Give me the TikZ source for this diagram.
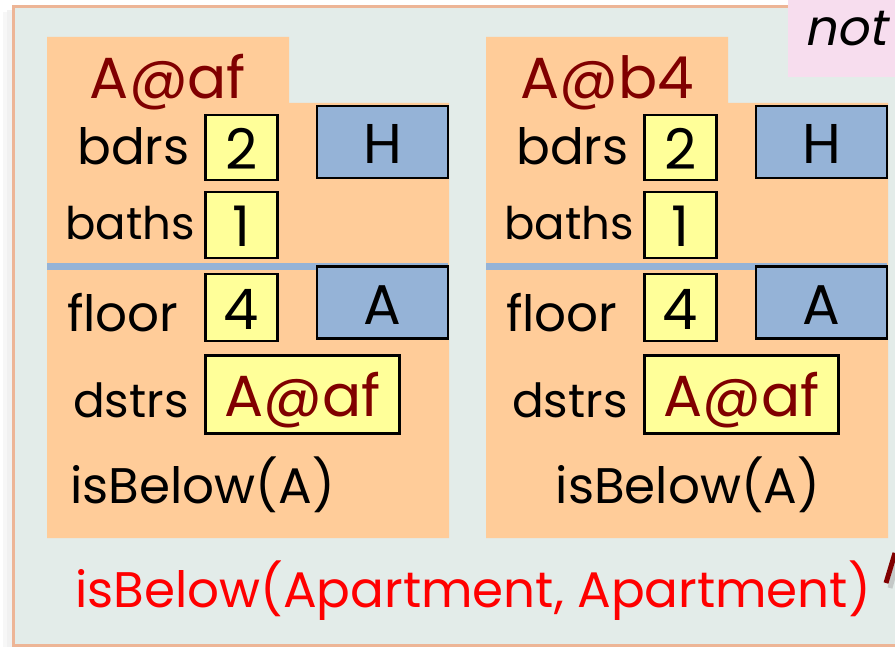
\documentclass[tikz,border=0pt]{standalone}
\usepackage{fontspec}
\setmainfont{Poppins}
\newfontfamily\slantfont[FakeSlant=0.2]{Poppins}
\definecolor{panelbg}{HTML}{E3ECE9}
\definecolor{panelrim}{HTML}{EDB596}
\definecolor{cardbg}{HTML}{FFCC99}
\definecolor{valbg}{HTML}{FFFF99}
\definecolor{tagbg}{HTML}{95B3D7}
\definecolor{notbg}{HTML}{F7DDEE}
\definecolor{darkred}{HTML}{800000}
\newcommand{\bigtxt}{\fontsize{50}{60}\selectfont}
\newcommand{\valtxt}{\fontsize{56}{60}\selectfont}
\newcommand{\idtxt}{\fontsize{58}{60}\selectfont}
\tikzset{
  lbl/.style={anchor=base west, inner sep=0pt, font=\bigtxt},
  title/.style={anchor=base, inner sep=0pt, font=\idtxt, text=darkred},
  valbox/.style={draw, fill=valbg, line width=2.6pt, inner sep=0pt,
    text height=44pt, text depth=0pt, font=\valtxt},
  tagbox/.style={draw, fill=tagbg, line width=2.6pt, inner sep=0pt,
    minimum width=131pt, minimum height=72pt,
    text height=44pt, text depth=0pt, font=\valtxt}
}
\begin{document}
\begin{tikzpicture}[x=1pt, y=-1pt]
  \useasboundingbox (0,0) rectangle (895,647);
  % panel with its soft shadow
  \fill[black!10, opacity=0.5] (7,10) rectangle (900,652);
  \fill[black!6, opacity=0.5] (3,12) rectangle (900,652);
  \filldraw[fill=panelbg, draw=panelrim, line width=3pt] (13.5,6.5) rectangle (905,645);
  % the two cards
  \foreach \dx/\ttl/\nm/\bx in {0/A@af/l/202.5, 439/A@b4/r/249}{
    \begin{scope}[xshift=\dx pt]
      \fill[cardbg] (47,37) -- (289,37) -- (289,103) -- (449,103) -- (449,538) -- (47,538) -- cycle;
      \fill[tagbg] (47,263) rectangle (448,270);
      \node[title] (\nm-title) at (168,99) {\ttl};
      \node[lbl] (\nm-bdrs) at (77,165) {bdrs};
      \node[lbl, font=\fontsize{45}{60}\selectfont] (\nm-baths) at (65,240) {baths};
      \node[lbl] (\nm-floor) at (67,332) {floor};
      \node[lbl, font=\fontsize{47}{60}\selectfont] (\nm-dstrs) at (73,417) {dstrs};
      \node[lbl, anchor=base] (\nm-below) at (\bx,503) {isBelow(A)};
      \node[valbox, minimum width=72pt, minimum height=65pt] (\nm-bdrs-v) at (241.5,147.5) {2};
      \node[valbox, minimum width=72pt, minimum height=66pt] (\nm-baths-v) at (241.5,225) {1};
      \node[valbox, minimum width=72pt, minimum height=67pt] (\nm-floor-v) at (241.5,307.5) {4};
      \node[valbox, minimum width=194pt, minimum height=78pt, text=darkred, font=\idtxt] (\nm-dstrs-v) at (302.5,394.5) {A@af};
      \node[tagbox] (\nm-h) at (382.5,142) {H};
      \node[tagbox] (\nm-a) at (382.5,302.5) {A};
    \end{scope}
  }
  % corner note
  \fill[notbg] (788,0) rectangle (895,77);
  \node[lbl, anchor=base, font=\bigtxt\slantfont] (note) at (846,46) {not};
  \node[lbl, text=red] (rel) at (75,607) {isBelow(Apartment, Apartment)};
  % cut-off stroke at the right
  \draw[black!30, line width=5pt, opacity=0.6] (898,559) -- (890,588);
  \draw[darkred, line width=5pt] (895,553) -- (886,583);
\end{tikzpicture}
\end{document}
